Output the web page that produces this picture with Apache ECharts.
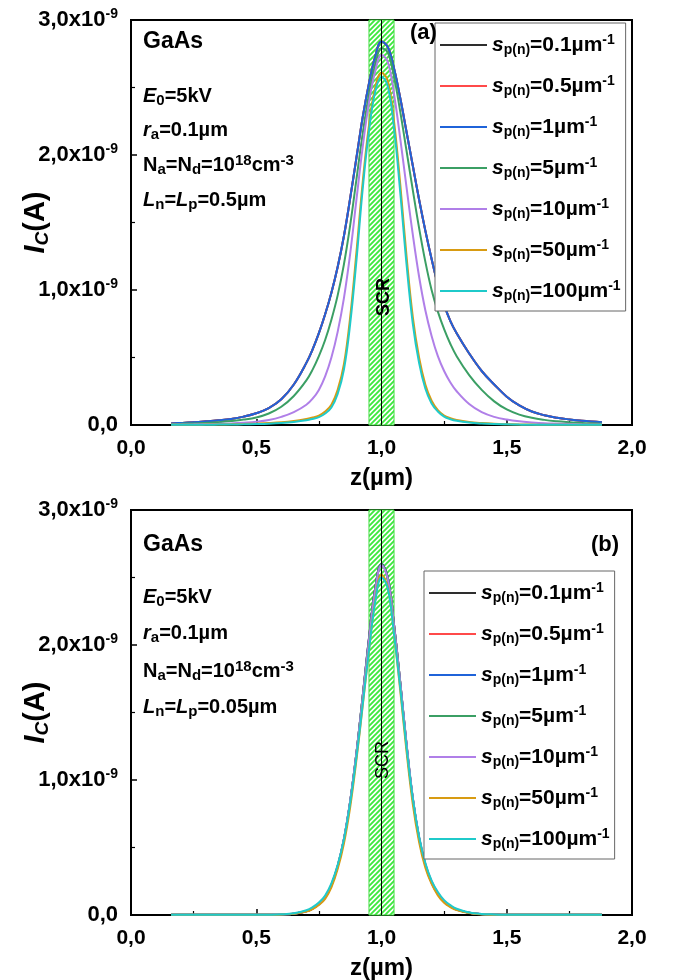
<!DOCTYPE html>
<html><head><meta charset="utf-8">
<script src="https://cdn.jsdelivr.net/npm/echarts@6/dist/echarts.min.js"></script>
<style>html,body{margin:0;padding:0;background:#fff}#c{width:675px;height:980px}</style>
</head><body><div id="c"></div>
<script>
// z positions (µm)
const zGrid = [0.16,0.2,0.25,0.3,0.35,0.4,0.45,0.5,0.55,0.6,0.65,
  0.7,0.725,0.75,0.775,0.8,0.825,0.85,0.875,0.9,0.925,0.95,0.975,1.0,1.025,1.05,1.075,1.1,1.125,1.15,1.175,1.2,1.225,1.25,1.275,1.3,
  1.35,1.4,1.45,1.5,1.55,1.6,1.65,1.7,1.75,1.8,1.88];
// surface recombination velocities (legend)
const sLabels = ['0.1','0.5','1','5','10','50','100'];
const xTickLabels = ['0,0','0,5','1,0','1,5','2,0'];

// panel (a): Ln = Lp = 0.5 µm, I_C in units of 1e-9 A
const topS01 = [0.012,0.015,0.02,0.027,0.035,0.045,0.062,0.087,0.125,0.19,0.3,
  0.46,0.56,0.68,0.82,0.98,1.17,1.4,1.68,1.98,2.28,2.53,2.73,2.84,2.8,2.64,2.42,2.17,1.92,1.67,1.44,1.23,1.04,0.89,0.77,0.68,
  0.53,0.4,0.3,0.21,0.145,0.1,0.072,0.054,0.041,0.031,0.02];
const topS05 = [0.012,0.015,0.02,0.027,0.035,0.045,0.062,0.087,0.125,0.19,0.3,
  0.46,0.56,0.68,0.82,0.98,1.17,1.4,1.68,1.98,2.28,2.53,2.73,2.84,2.8,2.64,2.42,2.17,1.92,1.67,1.44,1.23,1.04,0.89,0.77,0.68,
  0.53,0.4,0.3,0.21,0.145,0.1,0.072,0.054,0.041,0.031,0.02];
const topS1 = [0.012,0.015,0.02,0.027,0.035,0.045,0.062,0.087,0.125,0.19,0.3,
  0.46,0.56,0.68,0.82,0.98,1.17,1.4,1.68,1.98,2.28,2.53,2.73,2.84,2.8,2.64,2.42,2.17,1.92,1.67,1.44,1.23,1.04,0.89,0.77,0.68,
  0.53,0.4,0.3,0.21,0.145,0.1,0.072,0.054,0.041,0.031,0.02];
const topS5 = [0.007,0.009,0.012,0.016,0.021,0.029,0.04,0.056,0.085,0.135,0.215,
  0.33,0.41,0.51,0.63,0.78,0.96,1.19,1.48,1.82,2.16,2.45,2.67,2.79,2.76,2.58,2.32,2.03,1.74,1.46,1.21,1.0,0.84,0.71,0.6,0.51,
  0.37,0.26,0.175,0.115,0.077,0.053,0.038,0.028,0.021,0.015,0.01];
const topS10 = [0.003,0.004,0.005,0.007,0.009,0.012,0.017,0.024,0.037,0.06,0.095,
  0.15,0.195,0.26,0.36,0.5,0.69,0.94,1.27,1.67,2.06,2.39,2.62,2.74,2.69,2.45,2.12,1.76,1.41,1.1,0.85,0.66,0.51,0.4,0.315,0.25,
  0.155,0.095,0.06,0.04,0.027,0.019,0.013,0.01,0.007,0.005,0.004];
const topS50 = [0.001,0.002,0.002,0.003,0.004,0.005,0.007,0.01,0.014,0.02,0.03,
  0.045,0.055,0.07,0.1,0.15,0.26,0.45,0.8,1.28,1.8,2.22,2.5,2.61,2.55,2.25,1.78,1.25,0.8,0.5,0.3,0.18,0.11,0.07,0.05,0.037,
  0.022,0.014,0.009,0.006,0.004,0.003,0.002,0.002,0.001,0.001,0.001];
const topS100 = [0.001,0.001,0.002,0.002,0.003,0.004,0.005,0.007,0.01,0.015,0.023,
  0.035,0.045,0.058,0.085,0.13,0.23,0.41,0.75,1.22,1.75,2.18,2.47,2.58,2.51,2.2,1.72,1.19,0.75,0.46,0.27,0.16,0.1,0.062,0.043,0.031,
  0.018,0.011,0.007,0.005,0.003,0.002,0.002,0.001,0.001,0.001,0.001];

// panel (b): Ln = Lp = 0.05 µm
const botS01 = [0.001,0.001,0.001,0.001,0.001,0.001,0.001,0.001,0.002,0.004,0.01,
  0.028,0.048,0.08,0.13,0.22,0.36,0.56,0.84,1.2,1.62,2.05,2.42,2.6,2.5,2.15,1.72,1.26,0.86,0.57,0.37,0.24,0.155,0.098,0.063,0.04,
  0.016,0.006,0.003,0.002,0.001,0.001,0.001,0.001,0.001,0.001,0.001];
const botS05 = [0.001,0.001,0.001,0.001,0.001,0.001,0.001,0.001,0.002,0.004,0.01,
  0.028,0.048,0.08,0.13,0.22,0.36,0.56,0.84,1.2,1.62,2.05,2.42,2.6,2.5,2.15,1.72,1.26,0.86,0.57,0.37,0.24,0.155,0.098,0.063,0.04,
  0.016,0.006,0.003,0.002,0.001,0.001,0.001,0.001,0.001,0.001,0.001];
const botS1 = [0.001,0.001,0.001,0.001,0.001,0.001,0.001,0.001,0.002,0.004,0.01,
  0.028,0.048,0.08,0.13,0.22,0.36,0.56,0.84,1.2,1.62,2.05,2.42,2.6,2.5,2.15,1.72,1.26,0.86,0.57,0.37,0.24,0.155,0.098,0.063,0.04,
  0.016,0.006,0.003,0.002,0.001,0.001,0.001,0.001,0.001,0.001,0.001];
const botS5 = [0.001,0.001,0.001,0.001,0.001,0.001,0.001,0.001,0.002,0.004,0.01,
  0.029,0.049,0.082,0.132,0.222,0.362,0.562,0.842,1.2,1.62,2.04,2.41,2.6,2.5,2.15,1.72,1.26,0.865,0.575,0.375,0.245,0.158,0.1,0.065,0.041,
  0.016,0.006,0.003,0.002,0.001,0.001,0.001,0.001,0.001,0.001,0.001];
const botS10 = [0.001,0.001,0.001,0.001,0.001,0.001,0.001,0.001,0.002,0.005,0.011,
  0.03,0.051,0.084,0.135,0.225,0.365,0.565,0.845,1.2,1.61,2.03,2.4,2.59,2.49,2.14,1.72,1.27,0.87,0.58,0.38,0.25,0.163,0.103,0.067,0.042,
  0.017,0.007,0.003,0.002,0.001,0.001,0.001,0.001,0.001,0.001,0.001];
const botS50 = [0.001,0.001,0.001,0.001,0.001,0.001,0.001,0.001,0.002,0.004,0.009,
  0.025,0.044,0.074,0.12,0.205,0.34,0.53,0.8,1.15,1.55,1.96,2.33,2.52,2.43,2.08,1.66,1.21,0.82,0.54,0.35,0.23,0.145,0.09,0.058,0.036,
  0.014,0.005,0.002,0.001,0.001,0.001,0.001,0.001,0.001,0.001,0.001];
const botS100 = [0.001,0.001,0.001,0.001,0.001,0.001,0.001,0.001,0.002,0.005,0.013,
  0.035,0.058,0.092,0.145,0.235,0.37,0.56,0.83,1.17,1.56,1.96,2.32,2.5,2.42,2.08,1.68,1.24,0.86,0.58,0.385,0.255,0.17,0.11,0.073,0.046,
  0.019,0.008,0.004,0.002,0.001,0.001,0.001,0.001,0.001,0.001,0.001];

const topSets = [topS01, topS05, topS1, topS5, topS10, topS50, topS100];
const botSets = [botS01, botS05, botS1, botS5, botS10, botS50, botS100];
const colors = ['#2e2e2e','#ff4a4a','#1f63d9','#3b9f64','#b07fe8','#d89b12','#1fcaca'];

const FONT = '"Liberation Sans", Arial, Helvetica, sans-serif';
const seriesNames = sLabels.map(s => 's_p(n)=' + s + 'µm^-1');

// hatch pattern for SCR
const pc = document.createElement('canvas');
pc.width = 5; pc.height = 5;
(function(){
  const ctx = pc.getContext('2d');
  ctx.fillStyle = '#ffffff'; ctx.fillRect(0,0,5,5);
  ctx.strokeStyle = '#3ee83e'; ctx.lineWidth = 1.9;
  ctx.beginPath();
  ctx.moveTo(0,5); ctx.lineTo(5,0);
  ctx.moveTo(-1,1); ctx.lineTo(1,-1);
  ctx.moveTo(4,6); ctx.lineTo(6,4);
  ctx.stroke();
})();

const chart = echarts.init(document.getElementById('c'), null, {renderer:'canvas'});

const grids = [
  {left:131, top:20, width:501, height:405, containLabel:false, outerBoundsMode:'none', show:true, borderColor:'#000', borderWidth:2, backgroundColor:'transparent'},
  {left:131, top:510, width:501, height:405, containLabel:false, outerBoundsMode:'none', show:true, borderColor:'#000', borderWidth:2, backgroundColor:'transparent'}
];

function xAxis(gi){
  return {
    gridIndex: gi, type:'value', min:0, max:2, interval:0.5,
    axisLine:{show:true, lineStyle:{color:'#000', width:2}},
    axisTick:{show:true, inside:true, length:6, lineStyle:{color:'#000', width:1.5}},
    minorTick:{show:true, splitNumber:2, length:4, lineStyle:{color:'#000', width:1.2}},
    splitLine:{show:false},
    axisLabel:{margin:13, color:'#000', fontSize:21, fontWeight:'bold', fontFamily:FONT,
      formatter: v => xTickLabels[Math.round(v/0.5)]},
    name:'z(µm)', nameLocation:'middle', nameGap:41, nameMoveOverlap:false,
    nameTextStyle:{color:'#000', fontSize:24, fontWeight:'bold', fontFamily:FONT}
  };
}
const yRich = {
  n:{fontSize:22, fontWeight:'bold', fontFamily:FONT, color:'#000', lineHeight:26, verticalAlign:'middle'},
  sup:{fontSize:14, fontWeight:'bold', fontFamily:FONT, color:'#000', lineHeight:12, verticalAlign:'top'}
};
function yAxis(gi){
  return {
    gridIndex: gi, type:'value', min:0, max:3, interval:1,
    axisLine:{show:true, lineStyle:{color:'#000', width:2}},
    axisTick:{show:true, inside:true, length:6, lineStyle:{color:'#000', width:1.5}},
    minorTick:{show:true, splitNumber:2, length:4, lineStyle:{color:'#000', width:1.2}},
    splitLine:{show:false},
    axisLabel:{margin:13, rich:yRich,
      formatter: v => v === 0 ? '{n|0,0}' : '{n|' + v.toFixed(1).replace('.',',') + 'x10}{sup|-9}'},
    name:'{i|I}{sub|C}{n|(A)}', nameLocation:'middle', nameRotate:90, nameGap:79, nameMoveOverlap:false,
    nameTextStyle:{rich:{
      i:{fontSize:29, fontWeight:'bold', fontStyle:'italic', fontFamily:FONT, color:'#000', lineHeight:32, verticalAlign:'middle'},
      sub:{fontSize:19, fontWeight:'bold', fontStyle:'italic', fontFamily:FONT, color:'#000', lineHeight:14, verticalAlign:'bottom'},
      n:{fontSize:29, fontWeight:'bold', fontFamily:FONT, color:'#000', lineHeight:32, verticalAlign:'middle'}
    }}
  };
}

const series = [];
[topSets, botSets].forEach((sets, gi) => {
  sets.forEach((vals, i) => {
    const s = {
      type:'line', name: seriesNames[i], xAxisIndex: gi, yAxisIndex: gi,
      data: zGrid.map((z, j) => [z, vals[j]]),
      smooth: 0.4, showSymbol:false, symbol:'none',
      lineStyle:{color: colors[i], width:2}, itemStyle:{color: colors[i]},
      emphasis:{disabled:true}, silent:true, animation:false, z: 3
    };
    if (i === 0) {
      s.markArea = {silent:true, itemStyle:{color:{image: pc, repeat:'repeat'}, borderColor:'#44dd44', borderWidth:1},
        data:[[{xAxis:0.95},{xAxis:1.05}]]};
      s.markLine = {silent:true, symbol:'none', label:{show:false}, animation:false,
        lineStyle:{color:'#000', width:1, type:'solid'}, data:[{xAxis:1.0}], z: 5};
      s.z = 2;
    }
    series.push(s);
  });
});

const legRich = {
  s:{fontSize:21, fontWeight:'bold', fontStyle:'italic', fontFamily:FONT, color:'#000', lineHeight:24, verticalAlign:'middle'},
  sub:{fontSize:14, fontWeight:'bold', fontFamily:FONT, color:'#000', lineHeight:12, verticalAlign:'bottom'},
  n:{fontSize:21, fontWeight:'bold', fontFamily:FONT, color:'#000', lineHeight:24, verticalAlign:'middle'},
  sup:{fontSize:14, fontWeight:'bold', fontFamily:FONT, color:'#000', lineHeight:12, verticalAlign:'top'}
};
function legend(left, top){
  return {
    data: seriesNames, orient:'vertical', left, top,
    icon:'rect', itemWidth:47, itemHeight:2, itemGap:17,
    padding:[10,5,8,5], backgroundColor:'#fff', borderColor:'#666', borderWidth:1,
    selectedMode:false,
    formatter: name => '{s|s}{sub|p(n)}{n|=' + sLabels[seriesNames.indexOf(name)] + 'µm}{sup|-1}',
    textStyle:{rich: legRich}
  };
}

const annRich = {
  n:{fontSize:20, fontWeight:'bold', fontFamily:FONT, fill:'#000', lineHeight:24, verticalAlign:'middle'},
  i:{fontSize:20, fontWeight:'bold', fontStyle:'italic', fontFamily:FONT, fill:'#000', lineHeight:24, verticalAlign:'middle'},
  sub:{fontSize:15, fontWeight:'bold', fontFamily:FONT, fill:'#000', lineHeight:12, verticalAlign:'bottom'},
  sup:{fontSize:15, fontWeight:'bold', fontFamily:FONT, fill:'#000', lineHeight:12, verticalAlign:'top'}
};
function ann(x, y, text){
  return {type:'text', x, y, z:50, silent:true,
    style:{text, rich: annRich, align:'left', verticalAlign:'middle', fill:'#000', font:'bold 20px ' + FONT}};
}
function panelTexts(lnText, gasY, rows){
  return [
    {type:'text', x:143, y:gasY, z:50, silent:true, style:{text:'GaAs', align:'left', verticalAlign:'middle', fill:'#000', font:'bold 23px ' + FONT}},
    ann(143, rows[0], '{i|E}{sub|0}{n|=5kV}'),
    ann(143, rows[1], '{i|r}{sub|a}{n|=0.1µm}'),
    ann(143, rows[2], '{n|N}{sub|a}{n|=N}{sub|d}{n|=10}{sup|18}{n|cm}{sup|-3}'),
    ann(143, rows[3], '{i|L}{sub|n}{n|=}{i|L}{sub|p}{n|=' + lnText + 'µm}')
  ];
}

const graphic = [].concat(
  panelTexts('0.5', 42, [96, 130, 165, 200]),
  panelTexts('0.05', 545, [597, 633, 671, 707]),
  [
    {type:'text', x:410, y:33, z:50, silent:true, style:{text:'(a)', align:'left', verticalAlign:'middle', fill:'#000', font:'bold 22px ' + FONT}},
    {type:'text', x:591, y:545, z:50, silent:true, style:{text:'(b)', align:'left', verticalAlign:'middle', fill:'#000', font:'bold 22px ' + FONT}},
    {type:'text', x:384, y:297, rotation:Math.PI/2, z:50, silent:true, style:{text:'SCR', align:'center', verticalAlign:'middle', fill:'#000', font:'bold 18px ' + FONT}},
    {type:'text', x:383, y:760, rotation:Math.PI/2, z:50, silent:true, style:{text:'SCR', align:'center', verticalAlign:'middle', fill:'#000', font:'18px ' + FONT}}
  ]
);

chart.setOption({
  animation:false,
  backgroundColor:'#fff',
  grid: grids,
  xAxis: [xAxis(0), xAxis(1)],
  yAxis: [yAxis(0), yAxis(1)],
  legend: [legend(435, 23), legend(424, 571)],
  series,
  graphic
});
</script></body></html>
